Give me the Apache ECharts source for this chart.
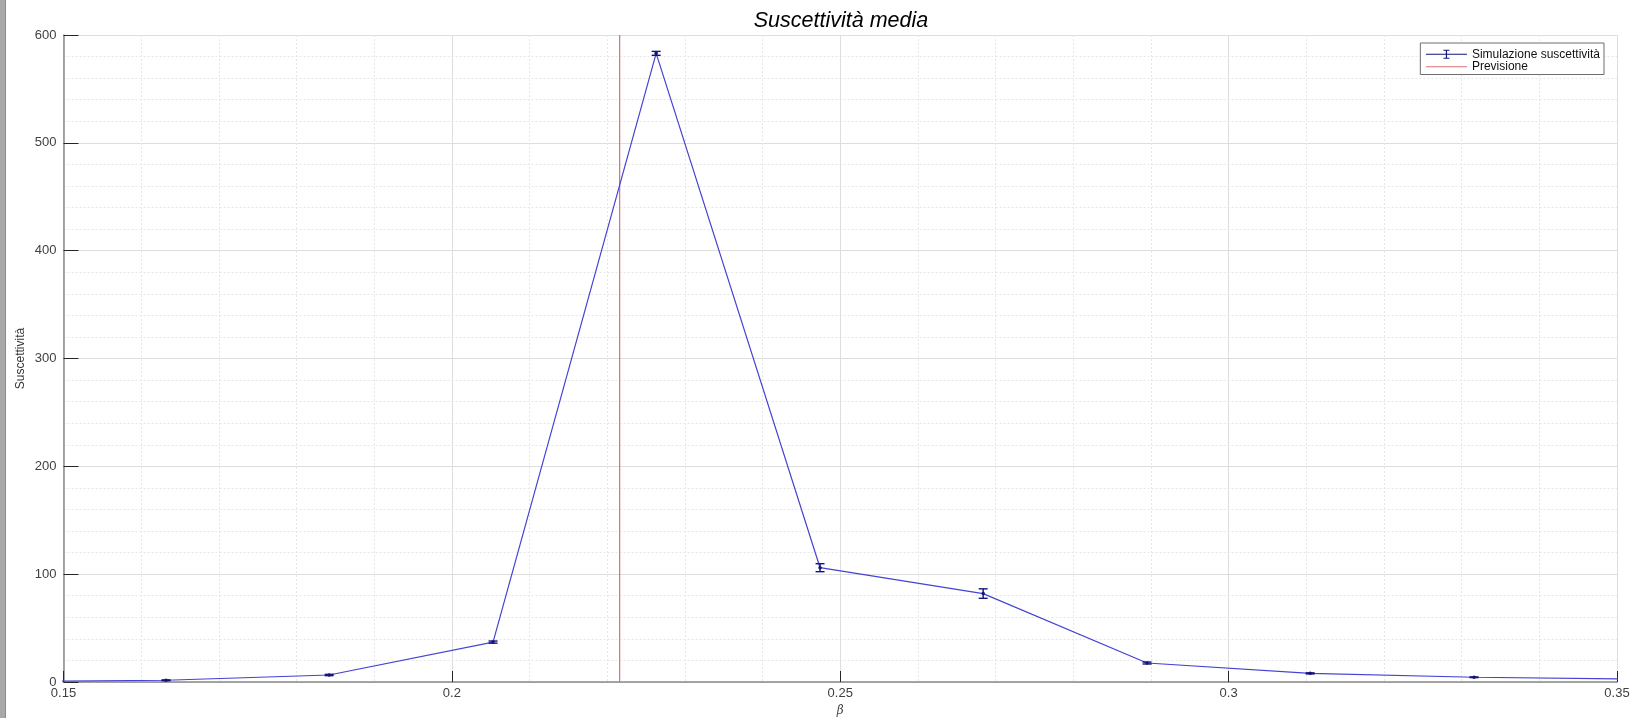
<!DOCTYPE html>
<html>
<head>
<meta charset="utf-8">
<script src="https://cdn.jsdelivr.net/npm/echarts@6/dist/echarts.min.js"></script>
<style>
  html, body { margin: 0; padding: 0; background: #ffffff; }
  #chart { width: 1632px; height: 718px; }
  #strip { position: absolute; left: 0; top: 0; width: 5px; height: 718px; background: #a8a8a8; border-right: 1px solid #8c8c8c; z-index: 2; }
</style>
</head>
<body>
<div id="strip"></div>
<div id="chart"></div>
<script>
// ---- data ----
const betaValues = [0.1421, 0.1632, 0.1842, 0.2053, 0.2263, 0.2474, 0.2684, 0.2895, 0.3105, 0.3316, 0.3526];
const chiValues  = [0.4, 1.6, 6.5, 37, 583, 106, 82, 17.6, 8.0, 4.4, 2.7];
const chiErrors  = [0.2, 0.4, 0.6, 1.0, 1.8, 3.7, 4.4, 0.9, 0.5, 0.3, 0.2];
const predictionBeta = 0.2216;
const xRange = [0.15, 0.35];
const yRange = [0, 600];
const titleText = 'Suscettività media';
const yName = 'Suscettività';
const xName = 'β';
const seriesNames = ['Simulazione suscettività', 'Previsione'];

const lineData = betaValues.map((b, i) => [b, chiValues[i]]);
const errData = betaValues.map((b, i) => [b, chiValues[i] - chiErrors[i], chiValues[i] + chiErrors[i]]);
const predData = [[predictionBeta, yRange[0]], [predictionBeta, yRange[1]]];

const font = 'Liberation Sans, Arial, Helvetica, sans-serif';
const blue = '#4343d4';
const navy = '#14147a';
const red = '#d87070';

const chart = echarts.init(document.getElementById('chart'), null, { renderer: 'canvas' });
chart.setOption({
  animation: false,
  backgroundColor: '#ffffff',
  title: {
    text: titleText,
    left: 841, top: 10, padding: 0,
    textAlign: 'center',
    textStyle: { fontFamily: font, fontSize: 21.5, fontStyle: 'italic', fontWeight: 'normal', color: '#000000' }
  },
  grid: { left: 63.5, right: 15, top: 35, bottom: 36, containLabel: false, outerBoundsMode: 'none' },
  legend: {
    orient: 'vertical',
    right: 28, top: 43,
    padding: [5, 4, 1.5, 5],
    itemGap: 0,
    itemWidth: 41, itemHeight: 10,
    backgroundColor: '#ffffff',
    borderColor: '#6e6e6e', borderWidth: 1,
    textStyle: { fontFamily: font, fontSize: 12, color: '#111111', lineHeight: 12.5 },
    data: [
      { name: seriesNames[0], icon: 'path://M0,5H41M17.5,1H23.5M20.5,1V9M17.5,9H23.5',
        itemStyle: { color: 'transparent', borderColor: navy, borderWidth: 1.2 } },
      { name: seriesNames[1], icon: 'path://M0,0M0,5H41M41,10',
        itemStyle: { color: 'transparent', borderColor: red, borderWidth: 1.2 } }
    ]
  },
  xAxis: {
    type: 'value', min: xRange[0], max: xRange[1], interval: 0.05,
    name: xName, nameLocation: 'middle', nameGap: 23, nameMoveOverlap: false,
    nameTextStyle: { fontFamily: 'DejaVu Serif, serif', fontStyle: 'italic', fontSize: 12, color: '#444444' },
    axisLine: { show: true, onZero: false, lineStyle: { color: '#8a8a8a', width: 1.5 } },
    axisTick: { show: true, inside: true, length: 11, lineStyle: { color: '#262626', width: 1 } },
    axisLabel: { fontFamily: font, fontSize: 13, color: '#404040', margin: 5 },
    splitLine: { show: true, lineStyle: { color: '#dedede', width: 1 } },
    minorTick: { show: false, splitNumber: 5 },
    minorSplitLine: { show: true, lineStyle: { color: '#e6e6e6', width: 1, type: [2, 2] } }
  },
  yAxis: {
    type: 'value', min: yRange[0], max: yRange[1], interval: 100,
    name: yName, nameLocation: 'middle', nameGap: 37, nameRotate: 90, nameMoveOverlap: false,
    nameTextStyle: { fontFamily: font, fontSize: 12, color: '#333333' },
    axisLine: { show: true, onZero: false, lineStyle: { color: '#8a8a8a', width: 1.5 } },
    axisTick: { show: true, inside: true, length: 15, lineStyle: { color: '#262626', width: 1 } },
    axisLabel: { fontFamily: font, fontSize: 13, color: '#404040', margin: 7 },
    splitLine: { show: true, lineStyle: { color: '#dedede', width: 1 } },
    minorTick: { show: false, splitNumber: 5 },
    minorSplitLine: { show: true, lineStyle: { color: '#e6e6e6', width: 1, type: [2, 2] } }
  },
  series: [
    {
      name: seriesNames[0],
      type: 'line',
      data: lineData,
      clip: true,
      symbol: 'circle', symbolSize: 3.5,
      lineStyle: { color: blue, width: 1.2 },
      itemStyle: { color: navy },
      z: 3
    },
    {
      name: seriesNames[0],
      type: 'custom',
      data: errData,
      clip: true,
      encode: { x: 0, y: [1, 2] },
      renderItem: function (params, api) {
        const x = api.value(0);
        const lo = api.coord([x, api.value(1)]);
        const hi = api.coord([x, api.value(2)]);
        const hw = 4.5;
        const style = { stroke: navy, lineWidth: 1.4, fill: null };
        return {
          type: 'group',
          children: [
            { type: 'line', shape: { x1: lo[0], y1: lo[1], x2: hi[0], y2: hi[1] }, style: style },
            { type: 'line', shape: { x1: lo[0] - hw, y1: lo[1], x2: lo[0] + hw, y2: lo[1] }, style: style },
            { type: 'line', shape: { x1: hi[0] - hw, y1: hi[1], x2: hi[0] + hw, y2: hi[1] }, style: style }
          ]
        };
      },
      z: 4
    },
    {
      name: seriesNames[1],
      type: 'line',
      data: predData,
      symbol: 'none',
      lineStyle: { color: red, width: 1.2 },
      itemStyle: { color: red },
      z: 2
    }
  ]
});
</script>
</body>
</html>
